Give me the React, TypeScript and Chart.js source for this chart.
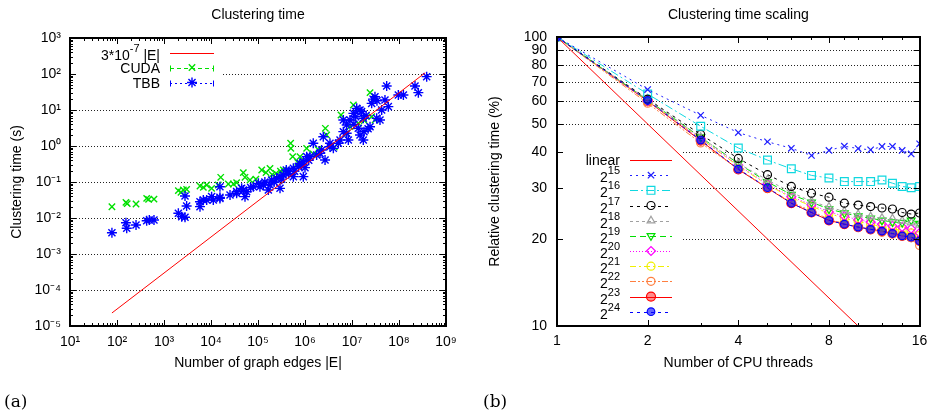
import React, { useEffect, useRef } from 'react';
import { Chart, registerables } from 'chart.js';
import { drawPoint } from 'chart.js/helpers';

Chart.register(...registerables);

const FONT = "'Liberation Sans', Arial, sans-serif";

// ---------------- (a) Clustering time ----------------
const fitLabel = '3*10⁻⁷ |E|';
const fitEdges = [78, 3.6e8];
const fitTimes = [2.3e-5, 108];

const cudaPoints: [number, number][] = [
  [78, 0.0206], [155, 0.0272], [165, 0.025], [254, 0.0245], [428, 0.0352], [470, 0.033], [612, 0.0335],
  [2020, 0.0574], [2300, 0.052], [2580, 0.06], [3030, 0.0625], [5830, 0.0774], [6870, 0.0711], [8090, 0.0826],
  [10300, 0.0667], [14300, 0.0826], [16100, 0.135], [23400, 0.088], [29900, 0.088], [35100, 0.0957],
  [48700, 0.182], [52900, 0.135], [67600, 0.114], [90000, 0.12], [120000, 0.216], [148000, 0.182],
  [180000, 0.24], [200000, 0.16], [241000, 0.174], [300000, 0.2], [346000, 0.216], [495000, 1.19],
  [500000, 0.861], [547000, 0.506], [700000, 0.35], [783000, 0.506], [1084000, 0.86], [1500000, 0.6],
  [1900000, 0.8], [2710000, 3.1], [2890000, 2.02], [4200000, 0.94], [5830000, 7.26], [7720000, 2.25],
  [9000000, 3.44], [10700000, 13.8], [13600000, 4.26], [18300000, 5.06], [24200000, 30.3],
  [26200000, 6.53], [30900000, 5.27],
];

const tbbPoints: [number, number][] = [
  [78, 0.0039], [155, 0.0074], [161, 0.0052], [254, 0.0064], [428, 0.0084], [487, 0.0088], [612, 0.0088],
  [2020, 0.0135], [2380, 0.0109], [2800, 0.0105], [2800, 0.0408], [3030, 0.0216], [5830, 0.0207],
  [5830, 0.0284], [6870, 0.0316], [8090, 0.0316], [10300, 0.0392], [11200, 0.0316], [15500, 0.0375],
  [15500, 0.0741], [15500, 0.035], [25400, 0.0436], [35100, 0.0484], [35100, 0.054], [44900, 0.0667],
  [48700, 0.06], [52900, 0.0392], [57400, 0.0538], [70000, 0.07], [79600, 0.0741], [102000, 0.0918],
  [110000, 0.074], [130000, 0.0826], [140000, 0.1], [166000, 0.06], [180000, 0.083], [195000, 0.114],
  [220000, 0.1], [250000, 0.126], [294000, 0.0667], [294000, 0.14], [320000, 0.12], [346000, 0.156],
  [400000, 0.215], [441000, 0.194], [450000, 0.17], [565000, 0.141], [565000, 0.24], [600000, 0.2],
  [721000, 0.267], [780000, 0.33], [850000, 0.3], [922000, 0.141], [922000, 0.367], [1000000, 0.25],
  [1084000, 0.506], [1200000, 0.4], [1280000, 0.506], [1500000, 1.19], [1770000, 0.562], [2090000, 0.625],
  [2260000, 0.774], [2450000, 1.81], [2670000, 0.408], [3400000, 1.19], [3400000, 0.957], [4010000, 0.861],
  [5120000, 1.19], [5560000, 1.47], [6540000, 2.5], [6540000, 5.27], [7710000, 3.83], [7710000, 2.25],
  [8360000, 1.47], [9060000, 5.27], [10700000, 8.07], [11000000, 4], [12000000, 6.5], [12600000, 11.1],
  [13600000, 3.1], [14800000, 2.02], [14800000, 10], [16000000, 9], [17400000, 5.87], [17400000, 1.47],
  [18000000, 2.5], [20000000, 7], [22000000, 3], [24200000, 3.44], [26200000, 15.3], [28000000, 20],
  [30800000, 23.4], [33500000, 5.87], [34000000, 18], [39400000, 5.27], [42800000, 10], [50300000, 19],
  [54700000, 46.4], [59300000, 12.4], [96800000, 26.1], [124000000, 26.1], [219000000, 46.4],
  [258000000, 30.3], [388000000, 84.3],
];

const edgeTicks = [1e1, 1e2, 1e3, 1e4, 1e5, 1e6, 1e7, 1e8, 1e9];
const edgeTickLabels = ['10¹', '10²', '10³', '10⁴', '10⁵', '10⁶', '10⁷', '10⁸', '10⁹'];
const timeTicks = [1e-5, 1e-4, 1e-3, 1e-2, 1e-1, 1e0, 1e1, 1e2, 1e3];
const timeTickLabels = ['10⁻⁵', '10⁻⁴', '10⁻³', '10⁻²', '10⁻¹', '10⁰', '10¹', '10²', '10³'];

// ---------------- (b) Clustering time scaling ----------------
const threads = [1, 2, 3, 4, 5, 6, 7, 8, 9, 10, 11, 12, 13, 14, 15, 16];
const linearThreads = [1, 16];
const linearTimes = [100, 6.25];
const s15 = [100, 65.8, 53.6, 46.7, 43.4, 41.2, 38.9, 40.5, 41.9, 41.1, 40.7, 41.8, 41.8, 40.5, 39.4, 42.7];
const s16 = [100, 63.5, 49.1, 41.3, 37.5, 35.0, 33.2, 32.5, 31.6, 31.6, 31.6, 32.0, 31.2, 30.4, 30.1, 30.4];
const s17 = [100, 61.0, 46.0, 38.0, 33.4, 30.4, 28.8, 27.9, 26.6, 26.2, 25.9, 25.6, 25.4, 24.7, 24.4, 24.6];
const s18 = [100, 60.7, 45.0, 36.5, 32.0, 29.0, 27.0, 25.8, 24.9, 24.3, 23.9, 23.6, 23.5, 23.1, 22.8, 22.4];
const s19 = [100, 60.5, 45.0, 36.5, 31.5, 28.5, 26.8, 25.4, 24.6, 24.0, 23.6, 23.2, 22.9, 22.8, 23.2, 22.6];
const s20 = [100, 60.0, 44.5, 36.0, 31.0, 28.0, 26.3, 24.8, 24.0, 23.3, 22.9, 22.5, 22.2, 22.0, 21.7, 21.0];
const s21 = [100, 60.0, 44.5, 35.8, 30.8, 27.8, 26.0, 24.5, 23.6, 23.0, 22.5, 22.0, 21.7, 21.4, 21.0, 20.6];
const s22 = [100, 59.0, 43.0, 35.0, 30.0, 26.8, 25.0, 23.4, 22.6, 22.0, 21.6, 21.1, 20.8, 20.5, 20.2, 19.0];
const s23 = [100, 60.0, 43.8, 34.8, 30.0, 26.6, 24.7, 23.2, 22.5, 22.0, 21.6, 21.3, 20.9, 20.5, 20.3, 19.7];
const s24 = [100, 60.3, 44.0, 34.9, 30.1, 26.6, 24.7, 23.2, 22.5, 22.0, 21.6, 21.3, 20.9, 20.5, 20.3, 19.7];
const threadTicks = [1, 2, 4, 8, 16];
const threadTickLabels = ['1', '2', '4', '8', '16'];
const pctTicks = [10, 20, 30, 40, 50, 60, 70, 80, 90, 100];
const pctTickLabels = ['10', '20', '30', '40', '50', '60', '70', '80', '90', '100'];

// ---------------- helpers ----------------
const SUPMAP: Record<string, string> = {
  '⁰': '0', '¹': '1', '²': '2', '³': '3', '⁴': '4', '⁵': '5', '⁶': '6', '⁷': '7', '⁸': '8', '⁹': '9', '⁻': '-',
};

function drawRich(ctx: CanvasRenderingContext2D, text: string, xRight: number, baseline: number) {
  const runs: { t: string; sup: boolean }[] = [];
  for (const ch of Array.from(text)) {
    const sup = ch in SUPMAP;
    const c = sup ? SUPMAP[ch] : ch;
    const last = runs[runs.length - 1];
    if (last && last.sup === sup) last.t += c;
    else runs.push({ t: c, sup });
  }
  let total = 0;
  const widths = runs.map((r) => {
    ctx.font = `${r.sup ? 11 : 14}px ${FONT}`;
    const w = ctx.measureText(r.t).width;
    total += w;
    return w;
  });
  let x = xRight - total;
  ctx.textAlign = 'left';
  ctx.textBaseline = 'alphabetic';
  runs.forEach((r, i) => {
    ctx.font = `${r.sup ? 11 : 14}px ${FONT}`;
    ctx.fillText(r.t, x, r.sup ? baseline - 8 : baseline);
    x += widths[i];
  });
}

const decoPlugin = {
  id: 'deco',
  beforeDatasetsDraw(chart: any, _a: any, o: any) {
    const { ctx, chartArea: a, scales } = chart;
    const y = scales.y;
    ctx.save();
    ctx.strokeStyle = '#222';
    ctx.lineWidth = 1;
    ctx.setLineDash([1, 2]);
    for (const v of o.grid) {
      const py = Math.round(y.getPixelForValue(v)) + 0.5;
      ctx.beginPath();
      ctx.moveTo(a.left, py);
      ctx.lineTo(a.right, py);
      ctx.stroke();
    }
    ctx.setLineDash([]);
    ctx.fillStyle = '#fff';
    const b = o.blank;
    ctx.fillRect(b[0], b[1], b[2] - b[0], b[3] - b[1]);
    ctx.restore();
  },
  afterDatasetsDraw(chart: any, _a: any, o: any) {
    const { ctx, chartArea: a, scales } = chart;
    const x = scales.x;
    const y = scales.y;
    ctx.save();
    ctx.strokeStyle = '#000';
    ctx.lineWidth = 1;
    ctx.setLineDash([]);
    const tick = (vals: number[], len: number, horiz: boolean) => {
      for (const v of vals) {
        ctx.beginPath();
        if (horiz) {
          const px = Math.round(x.getPixelForValue(v)) + 0.5;
          ctx.moveTo(px, a.bottom);
          ctx.lineTo(px, a.bottom - len);
          ctx.moveTo(px, a.top);
          ctx.lineTo(px, a.top + len);
        } else {
          const py = Math.round(y.getPixelForValue(v)) + 0.5;
          ctx.moveTo(a.left, py);
          ctx.lineTo(a.left + len, py);
          ctx.moveTo(a.right, py);
          ctx.lineTo(a.right - len, py);
        }
        ctx.stroke();
      }
    };
    tick(o.xMajor, 6, true);
    tick(o.xMinor, 3, true);
    tick(o.yMajor, 6, false);
    tick(o.yMinor, 3, false);
    ctx.lineWidth = 2;
    ctx.strokeRect(Math.round(a.left), Math.round(a.top), Math.round(a.right - a.left), Math.round(a.bottom - a.top));
    ctx.restore();
  },
};

const keyPlugin = {
  id: 'key',
  afterDatasetsDraw(chart: any, _a: any, o: any) {
    const ctx: CanvasRenderingContext2D = chart.ctx;
    chart.data.datasets.forEach((ds: any, i: number) => {
      const y = o.y0 + i * o.dy;
      const hasSup = Array.from(ds.label as string).some((c) => c in SUPMAP);
      ctx.save();
      ctx.fillStyle = '#000';
      drawRich(ctx, ds.label, o.textRight, y + (hasSup ? 7 : 5));
      ctx.strokeStyle = ds.borderColor;
      ctx.lineWidth = 1;
      ctx.setLineDash(ds.borderDash || []);
      const ly = Math.round(y) + 0.5;
      ctx.beginPath();
      ctx.moveTo(o.sx0, ly);
      ctx.lineTo(o.sx1, ly);
      ctx.stroke();
      ctx.setLineDash([]);
      if (o.caps && ds.showLine === false) {
        ctx.beginPath();
        ctx.moveTo(o.sx0 + 0.5, ly - 3);
        ctx.lineTo(o.sx0 + 0.5, ly + 3);
        ctx.moveTo(o.sx1 - 0.5, ly - 3);
        ctx.lineTo(o.sx1 - 0.5, ly + 3);
        ctx.stroke();
      }
      if (ds.pointRadius > 0) {
        ctx.fillStyle = ds.pointBackgroundColor || 'rgba(0,0,0,0)';
        ctx.strokeStyle = ds.borderColor;
        ctx.lineWidth = ds.pointBorderWidth || 1;
        drawPoint(
          ctx,
          { pointStyle: ds.pointStyle, radius: ds.pointRadius, rotation: ds.pointRotation || 0, borderWidth: ds.pointBorderWidth || 1 } as any,
          (o.sx0 + o.sx1) / 2,
          y
        );
      }
      ctx.restore();
    });
  },
};

const decades = (from: number, to: number) => {
  const out: number[] = [];
  for (let e = from; e < to; e++) for (let m = 2; m <= 9; m++) out.push(m * Math.pow(10, e));
  return out;
};

function tickOpts(labels: string[], padding: number) {
  return {
    callback: (_v: any, i: number) => labels[i],
    font: { size: 14, family: FONT },
    color: '#000',
    padding,
    autoSkip: false,
    maxRotation: 0,
  };
}

function leftConfig(): any {
  return {
    type: 'scatter',
    data: {
      datasets: [
        {
          label: fitLabel,
          data: fitEdges.map((x, i) => ({ x, y: fitTimes[i] })),
          showLine: true,
          borderColor: '#ff0000',
          borderWidth: 1,
          pointRadius: 0,
          order: 0,
        },
        {
          label: 'CUDA',
          data: cudaPoints.map(([x, y]) => ({ x, y })),
          showLine: false,
          borderColor: '#00e000',
          pointBorderColor: '#00e000',
          borderDash: [4, 3],
          pointStyle: 'crossRot',
          pointRadius: 4.5,
          pointBorderWidth: 1.4,
          order: 2,
        },
        {
          label: 'TBB',
          data: tbbPoints.map(([x, y]) => ({ x, y })),
          showLine: false,
          borderColor: '#0000ff',
          pointBorderColor: '#0000ff',
          borderDash: [2, 3],
          pointStyle: 'star',
          pointRadius: 5,
          pointBorderWidth: 1.4,
          order: 1,
        },
      ],
    },
    options: {
      animation: false,
      responsive: false,
      devicePixelRatio: 1,
      layout: { padding: { left: 0, right: 21, top: 0, bottom: 0 } },
      plugins: {
        legend: { display: false },
        tooltip: { enabled: false },
        title: {
          display: true,
          text: 'Clustering time',
          fullSize: false,
          color: '#000',
          font: { size: 14, weight: 'normal', family: FONT },
          padding: { top: 7, bottom: 14.2 },
        },
        deco: {
          grid: [1e-4, 1e-3, 1e-2, 1e-1, 1, 10, 100],
          blank: [71, 40, 222, 92],
          xMajor: edgeTicks,
          xMinor: decades(1, 9),
          yMajor: timeTicks,
          yMinor: decades(-5, 3),
        },
        key: { textRight: 160, sx0: 170, sx1: 214, y0: 52.5, dy: 15, caps: true },
      },
      scales: {
        x: {
          type: 'logarithmic',
          position: 'bottom',
          min: 10,
          max: 1e9,
          afterBuildTicks: (s: any) => {
            s.ticks = edgeTicks.map((v) => ({ value: v }));
          },
          afterFit: (s: any) => {
            s.height = 86;
          },
          grid: { display: false, drawTicks: false },
          border: { display: false },
          ticks: tickOpts(edgeTickLabels, 8),
          title: {
            display: true,
            text: 'Number of graph edges |E|',
            color: '#000',
            font: { size: 14, family: FONT },
            padding: { top: 0, bottom: 40.6 },
          },
        },
        y: {
          type: 'logarithmic',
          position: 'left',
          min: 1e-5,
          max: 1e3,
          afterBuildTicks: (s: any) => {
            s.ticks = timeTicks.map((v) => ({ value: v }));
          },
          afterFit: (s: any) => {
            s.width = 70;
          },
          grid: { display: false, drawTicks: false },
          border: { display: false },
          ticks: tickOpts(timeTickLabels, 9),
          title: {
            display: true,
            text: 'Clustering time (s)',
            color: '#000',
            font: { size: 14, family: FONT },
            padding: { top: 8.6, bottom: 0 },
          },
        },
      },
    },
    plugins: [decoPlugin, keyPlugin],
  };
}

function series(label: string, values: number[], style: any) {
  return {
    label,
    data: threads.map((x, i) => ({ x, y: values[i] })),
    showLine: true,
    borderWidth: 1,
    pointBorderWidth: 1.2,
    pointBorderColor: style.borderColor,
    pointBackgroundColor: 'rgba(0,0,0,0)',
    ...style,
  };
}

function rightConfig(): any {
  return {
    type: 'scatter',
    data: {
      datasets: [
        {
          label: 'linear',
          data: linearThreads.map((x, i) => ({ x, y: linearTimes[i] })),
          showLine: true,
          borderColor: '#ff0000',
          borderWidth: 1,
          pointRadius: 0,
        },
        series('2¹⁵', s15, { borderColor: '#2020ff', borderDash: [2, 4], pointStyle: 'crossRot', pointRadius: 4.5 }),
        series('2¹⁶', s16, { borderColor: '#10d8e0', borderDash: [8, 3, 2, 3], pointStyle: 'rect', pointRadius: 5.5 }),
        series('2¹⁷', s17, { borderColor: '#000000', borderDash: [3, 4], pointStyle: 'circle', pointRadius: 4 }),
        series('2¹⁸', s18, { borderColor: '#a0a0a0', borderDash: [3, 3], pointStyle: 'triangle', pointRadius: 4.5 }),
        series('2¹⁹', s19, { borderColor: '#00dd00', borderDash: [6, 4], pointStyle: 'triangle', pointRotation: 180, pointRadius: 4.5 }),
        series('2²⁰', s20, { borderColor: '#ff00ff', borderDash: [1, 2], pointStyle: 'rectRot', pointRadius: 4.5 }),
        series('2²¹', s21, { borderColor: '#f0f000', borderDash: [6, 3, 2, 3], pointStyle: 'circle', pointRadius: 4 }),
        series('2²²', s22, { borderColor: '#ff7f40', borderDash: [6, 2, 2, 2, 2, 2], pointStyle: 'circle', pointRadius: 4 }),
        series('2²³', s23, { borderColor: '#ff0000', borderDash: [], pointStyle: 'circle', pointRadius: 4.5, pointBackgroundColor: 'rgba(255,0,0,0.45)' }),
        series('2²⁴', s24, { borderColor: '#0000ff', borderDash: [3, 4], pointStyle: 'circle', pointRadius: 3.8, pointBackgroundColor: 'rgba(0,0,255,0.6)', order: -1 }),
      ],
    },
    options: {
      animation: false,
      responsive: false,
      devicePixelRatio: 1,
      layout: { padding: { left: 0, right: 10, top: 0, bottom: 0 } },
      plugins: {
        legend: { display: false },
        tooltip: { enabled: false },
        title: {
          display: true,
          text: 'Clustering time scaling',
          fullSize: false,
          color: '#000',
          font: { size: 14, weight: 'normal', family: FONT },
          padding: { top: 7, bottom: 13.2 },
        },
        deco: {
          grid: [20, 30, 40, 50, 60, 70, 80, 90],
          blank: [91, 150, 215, 321],
          xMajor: threadTicks,
          xMinor: [3, 5, 6, 7, 9, 10, 12, 14],
          yMajor: pctTicks,
          yMinor: [],
        },
        key: { textRight: 153, sx0: 163, sx1: 205, y0: 160, dy: 15.17, caps: false },
      },
      scales: {
        x: {
          type: 'logarithmic',
          position: 'bottom',
          min: 1,
          max: 16,
          afterBuildTicks: (s: any) => {
            s.ticks = threadTicks.map((v) => ({ value: v }));
          },
          afterFit: (s: any) => {
            s.height = 86;
          },
          grid: { display: false, drawTicks: false },
          border: { display: false },
          ticks: tickOpts(threadTickLabels, 6.6),
          title: {
            display: true,
            text: 'Number of CPU threads',
            color: '#000',
            font: { size: 14, family: FONT },
            padding: { top: 0, bottom: 40.6 },
          },
        },
        y: {
          type: 'logarithmic',
          position: 'left',
          min: 10,
          max: 100,
          afterBuildTicks: (s: any) => {
            s.ticks = pctTicks.map((v) => ({ value: v }));
          },
          afterFit: (s: any) => {
            s.width = 90;
          },
          grid: { display: false, drawTicks: false },
          border: { display: false },
          ticks: tickOpts(pctTickLabels, 10),
          title: {
            display: true,
            text: 'Relative clustering time (%)',
            color: '#000',
            font: { size: 14, family: FONT },
            padding: { top: 19.6, bottom: 0 },
          },
        },
      },
    },
    plugins: [decoPlugin, keyPlugin],
  };
}

export default function App() {
  const leftRef = useRef<HTMLCanvasElement>(null);
  const rightRef = useRef<HTMLCanvasElement>(null);
  useEffect(() => {
    Chart.defaults.font.family = FONT;
    Chart.defaults.color = '#000';
    const c1 = new Chart(leftRef.current as HTMLCanvasElement, leftConfig());
    const c2 = new Chart(rightRef.current as HTMLCanvasElement, rightConfig());
    return () => {
      c1.destroy();
      c2.destroy();
    };
  }, []);
  const cap: React.CSSProperties = {
    position: 'absolute',
    top: 393,
    fontFamily: "'DejaVu Serif', serif",
    fontSize: 17,
    lineHeight: '17px',
    color: '#000',
  };
  return (
    <div style={{ position: 'absolute', left: 0, top: 0, width: 934, height: 412, background: '#fff', overflow: 'hidden' }}>
      <canvas ref={leftRef} width={467} height={412} style={{ position: 'absolute', left: 0, top: 0 }} />
      <canvas ref={rightRef} width={467} height={412} style={{ position: 'absolute', left: 467, top: 0 }} />
      <div style={{ ...cap, left: 4 }}>(a)</div>
      <div style={{ ...cap, left: 483 }}>(b)</div>
    </div>
  );
}
